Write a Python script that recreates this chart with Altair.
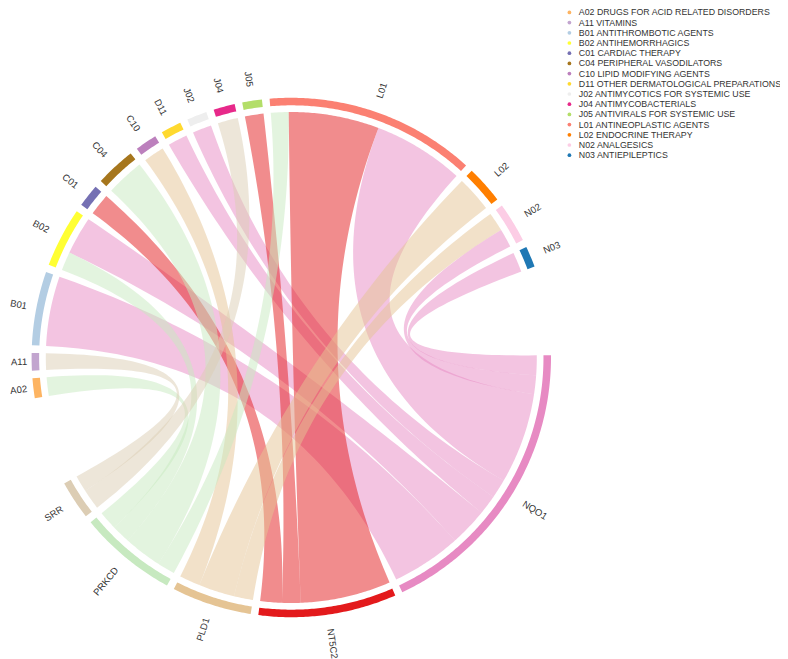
import numpy as np
import pandas as pd
import altair as alt

# ---------------- data ----------------
drugs = ["A02", "A11", "B01", "B02", "C01", "C04", "C10", "D11",
         "J02", "J04", "J05", "L01", "L02", "N02", "N03"]
drug_labels = [
    "A02 DRUGS FOR ACID RELATED DISORDERS",
    "A11 VITAMINS",
    "B01 ANTITHROMBOTIC AGENTS",
    "B02 ANTIHEMORRHAGICS",
    "C01 CARDIAC THERAPY",
    "C04 PERIPHERAL VASODILATORS",
    "C10 LIPID MODIFYING AGENTS",
    "D11 OTHER DERMATOLOGICAL PREPARATIONS",
    "J02 ANTIMYCOTICS FOR SYSTEMIC USE",
    "J04 ANTIMYCOBACTERIALS",
    "J05 ANTIVIRALS FOR SYSTEMIC USE",
    "L01 ANTINEOPLASTIC AGENTS",
    "L02 ENDOCRINE THERAPY",
    "N02 ANALGESICS",
    "N03 ANTIEPILEPTICS",
]
drug_colors = ["#fdb462", "#c2a5cf", "#b3cde3", "#ffff33", "#7570b3", "#a6761d",
               "#bc80bd", "#ffd92f", "#eeeeee", "#e7298a", "#b3de69", "#fb8072",
               "#ff7f00", "#fccde5", "#1f78b4"]
genes = ["NQO1", "NT5C2", "PLD1", "PRKCD", "SRR"]
gene_colors = ["#e78ac3", "#e31a1c", "#e5c494", "#c7e9c0", "#dccdb4"]

link_drug = ["A02", "A11", "B01", "B02", "B02", "C01", "C04", "C10", "D11", "J02",
             "J04", "J05", "L01", "L01", "L01", "L02", "N02", "N02", "N03"]
link_gene = ["PRKCD", "SRR", "NQO1", "NQO1", "PRKCD", "NT5C2", "PRKCD", "PLD1", "NQO1", "NQO1",
             "SRR", "NT5C2", "PRKCD", "NT5C2", "NQO1", "PLD1", "PLD1", "NQO1", "NQO1"]
link_value = [4.4, 3.9, 16.5, 9.0, 4.4, 5.1, 9.0, 4.9, 4.6, 4.5,
              4.8, 4.4, 4.2, 21.4, 21.5, 8.5, 4.5, 4.4, 4.7]

# ---------------- layout ----------------
sector_order = ["L01", "L02", "N02", "N03"] + genes + drugs[:11]
big_gap_after = {"N03", "SRR"}
small_gap, big_gap, start_angle = 1.7, 20.0, -4.8

totals = {s: 0.0 for s in sector_order}
for d, g, v in zip(link_drug, link_gene, link_value):
    totals[d] += v
    totals[g] += v
gaps = [big_gap if s in big_gap_after else small_gap for s in sector_order]
k = (360.0 - sum(gaps)) / sum(totals.values())

sector_span = {}
cur = start_angle
for s, gp in zip(sector_order, gaps):
    sector_span[s] = (cur, cur + k * totals[s])
    cur += k * totals[s] + gp

# sub-intervals inside each sector (partners in reverse alphabetical order clockwise)
sub = {}
for s in sector_order:
    partners = []
    for idx, (d, g, v) in enumerate(zip(link_drug, link_gene, link_value)):
        if d == s:
            partners.append((g, idx, v))
        elif g == s:
            partners.append((d, idx, v))
    partners.sort(key=lambda t: t[0], reverse=True)
    c = sector_span[s][0]
    for name, idx, v in partners:
        sub[(s, idx)] = (c, c + k * v)
        c += k * v

R_OUT, R_IN, R_RIB, R_LAB = 1.0, 0.971, 0.9453, 1.055

# ---------------- scales ----------------
W, H = 772, 651
CX, CY, RPX = 283.3, 349.5, 259.7
xdom = [-CX / RPX, (W - CX) / RPX]
ydom = [-(H - CY) / RPX, CY / RPX]


def pt(a, r):
    t = np.radians(a)
    return r * np.sin(t), r * np.cos(t)


def arc(a0, a1, r, step=0.5):
    n = max(2, int(abs(a1 - a0) / step) + 2)
    return [pt(a, r) for a in np.linspace(a0, a1, n)]


def bez(p0, p2, n=60):
    out = []
    for t in np.linspace(0, 1, n):
        out.append(((1 - t) ** 2 * p0[0] + t ** 2 * p2[0],
                    (1 - t) ** 2 * p0[1] + t ** 2 * p2[1]))
    return out


rows = []
for idx, (d, g, v) in enumerate(zip(link_drug, link_gene, link_value)):
    a0, a1 = sub[(d, idx)]
    b0, b1 = sub[(g, idx)]
    pts = arc(a0, a1, R_RIB)
    pts += bez(pt(a1, R_RIB), pt(b0, R_RIB))
    pts += arc(b0, b1, R_RIB)
    pts += bez(pt(b1, R_RIB), pt(a0, R_RIB))
    for i, (x, y) in enumerate(pts):
        rows.append({"id": f"r{idx}", "i": i, "x": x, "y": y, "key": g})
ribbons = pd.DataFrame(rows)

rows = []
for s in sector_order:
    a0, a1 = sector_span[s]
    pts = arc(a0, a1, R_OUT) + arc(a1, a0, R_IN)
    for i, (x, y) in enumerate(pts):
        rows.append({"id": s, "i": i, "x": x, "y": y, "key": s})
sectors = pd.DataFrame(rows)

FS = 9.5
lab_rows = []
for s in sector_order:
    a0, a1 = sector_span[s]
    m = (a0 + a1) / 2 % 360
    r = R_LAB
    if m >= 180:
        ang, side = (m - 270) % 360, "L"
        # keep the far end of left-side labels inside the drawing
        tw = 0.62 * FS * len(s) / RPX
        far = CX / RPX + (r * np.sin(np.radians(m))) - tw * abs(np.sin(np.radians(m)))
        min_far = 1.5 / RPX
        if far < min_far:
            r -= (min_far - far) / abs(np.sin(np.radians(m)))
    else:
        ang, side = (m - 90) % 360, "R"
    x, y = pt(m, r)
    lab_rows.append({"name": s, "x": x, "y": y, "ang": ang, "side": side})
labels = pd.DataFrame(lab_rows)

xs = alt.X("x:Q", scale=alt.Scale(domain=xdom, nice=False, zero=False), axis=None)
ys = alt.Y("y:Q", scale=alt.Scale(domain=ydom, nice=False, zero=False), axis=None)

all_names = drugs + genes
all_colors = drug_colors + gene_colors
color_scale = alt.Scale(domain=all_names, range=all_colors)
label_map = "{" + ",".join(f"'{c}':'{l}'" for c, l in zip(drugs, drug_labels)) + "}"

FONT = "Liberation Sans, Arial, Helvetica, sans-serif"

legend = alt.Legend(
    values=drugs, labelExpr=f"{label_map}[datum.label]", title=None,
    orient="none", legendX=557, legendY=0, symbolType="circle", symbolSize=14,
    symbolStrokeWidth=0, symbolOpacity=1, labelFontSize=8.8, labelFont=FONT,
    labelColor="#333333", rowPadding=0.2, labelOffset=5, padding=0, labelLimit=400)

ribbon_layer = alt.Chart(ribbons).mark_line(strokeOpacity=0, fillOpacity=0.5).encode(
    x=xs, y=ys, detail="id:N", order="i:Q",
    fill=alt.Fill("key:N", scale=color_scale, legend=legend),
)

sector_layer = alt.Chart(sectors).mark_line(strokeOpacity=0, fillOpacity=1).encode(
    x=xs, y=ys, detail="id:N", order="i:Q",
    fill=alt.Fill("key:N", scale=color_scale, legend=legend),
)

text_l = alt.Chart(labels[labels.side == "L"]).mark_text(
    align="right", baseline="middle", font=FONT, fontSize=FS, color="#333333"
).encode(x=xs, y=ys, text="name:N", angle=alt.Angle("ang:Q", scale=None))

text_r = alt.Chart(labels[labels.side == "R"]).mark_text(
    align="left", baseline="middle", font=FONT, fontSize=FS, color="#333333"
).encode(x=xs, y=ys, text="name:N", angle=alt.Angle("ang:Q", scale=None))

chart = alt.layer(ribbon_layer, sector_layer, text_l, text_r).properties(
    width=W, height=H, padding=0, autosize=alt.AutoSizeParams(type="none")
).configure_view(stroke=None)

chart.save("out.html", embed_options={"renderer": "svg", "actions": False})
